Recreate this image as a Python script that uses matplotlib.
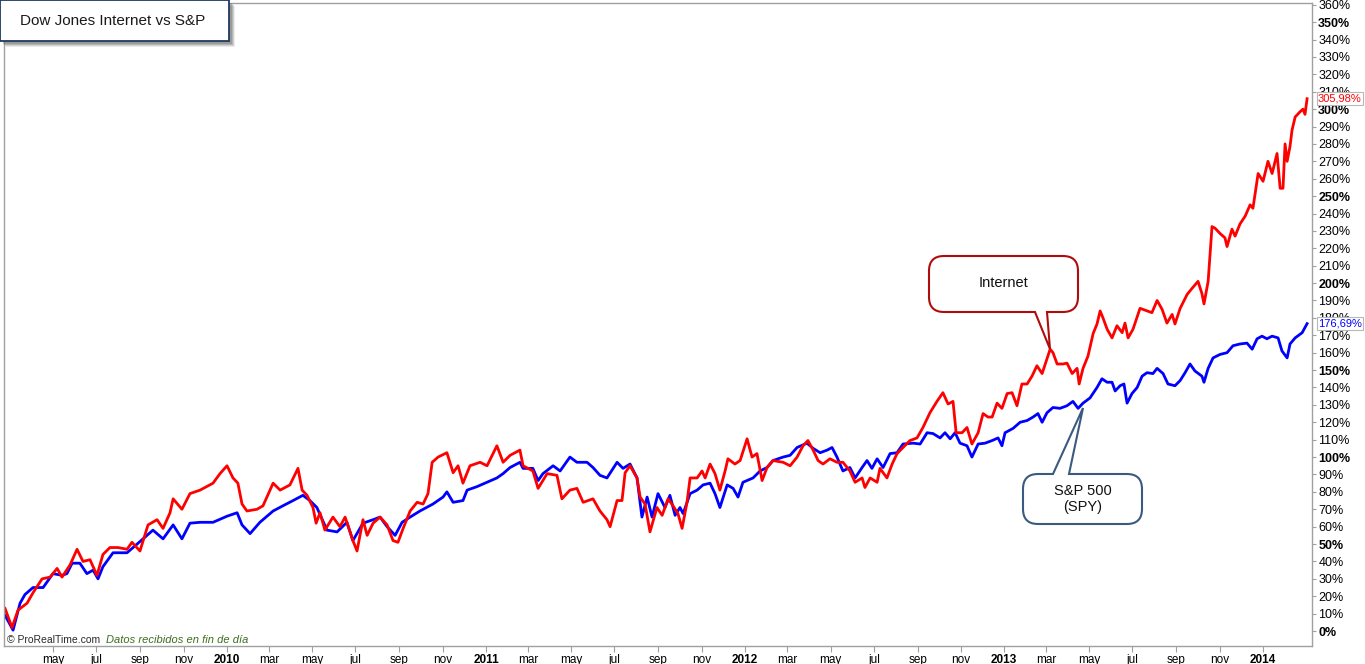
"""Dow Jones Internet vs S&P 500 (SPY), cumulative % change, 2009-2014."""

import datetime as dt

import matplotlib

matplotlib.use("Agg")
import matplotlib.pyplot as plt
from matplotlib.patches import PathPatch, Rectangle
from matplotlib.path import Path

W, H = 1365, 664

# time axis is in decimal years
internet_t = [
    2009.143, 2009.170, 2009.193, 2009.228, 2009.251, 2009.286, 2009.317, 2009.344,
    2009.363, 2009.394, 2009.421, 2009.444, 2009.471, 2009.498, 2009.521, 2009.548,
    2009.579, 2009.614, 2009.633, 2009.664, 2009.695, 2009.730, 2009.753, 2009.780,
    2009.792, 2009.826, 2009.857, 2009.896, 2009.946, 2009.973, 2010.000, 2010.023,
    2010.042, 2010.058, 2010.077, 2010.116, 2010.139, 2010.178, 2010.205, 2010.243,
    2010.274, 2010.290, 2010.309, 2010.332, 2010.344, 2010.359, 2010.378, 2010.409,
    2010.436, 2010.456, 2010.486, 2010.502, 2010.525, 2010.541, 2010.564, 2010.591,
    2010.618, 2010.641, 2010.660, 2010.680, 2010.707, 2010.734, 2010.757, 2010.776,
    2010.792, 2010.815, 2010.849, 2010.873, 2010.892, 2010.911, 2010.938, 2010.977,
    2011.004, 2011.042, 2011.066, 2011.093, 2011.131, 2011.143, 2011.181, 2011.201,
    2011.236, 2011.274, 2011.293, 2011.324, 2011.351, 2011.375, 2011.413, 2011.440,
    2011.467, 2011.479, 2011.506, 2011.525, 2011.537, 2011.556, 2011.583, 2011.595,
    2011.614, 2011.633, 2011.660, 2011.680, 2011.703, 2011.722, 2011.741, 2011.757,
    2011.776, 2011.788, 2011.815, 2011.834, 2011.846, 2011.865, 2011.884, 2011.903,
    2011.923, 2011.934, 2011.961, 2011.981, 2012.008, 2012.027, 2012.046, 2012.066,
    2012.085, 2012.108, 2012.147, 2012.174, 2012.201, 2012.224, 2012.243, 2012.263,
    2012.282, 2012.301, 2012.328, 2012.355, 2012.378, 2012.405, 2012.425, 2012.452,
    2012.463, 2012.483, 2012.510, 2012.521, 2012.548, 2012.568, 2012.587, 2012.610,
    2012.637, 2012.664, 2012.687, 2012.714, 2012.741, 2012.764, 2012.784, 2012.803,
    2012.815, 2012.838, 2012.857, 2012.876, 2012.900, 2012.919, 2012.938, 2012.954,
    2012.973, 2012.992, 2013.012, 2013.031, 2013.050, 2013.069, 2013.089, 2013.108,
    2013.127, 2013.147, 2013.166, 2013.178, 2013.189, 2013.205, 2013.228, 2013.243,
    2013.263, 2013.282, 2013.290, 2013.305, 2013.324, 2013.344, 2013.359, 2013.371,
    2013.382, 2013.398, 2013.417, 2013.436, 2013.456, 2013.467, 2013.479, 2013.498,
    2013.525, 2013.552, 2013.571, 2013.591, 2013.610, 2013.629, 2013.649, 2013.660,
    2013.680, 2013.707, 2013.726, 2013.749, 2013.764, 2013.772, 2013.788, 2013.803,
    2013.815, 2013.834, 2013.853, 2013.861, 2013.880, 2013.892, 2013.911, 2013.931,
    2013.950, 2013.961, 2013.981, 2014.000, 2014.019, 2014.035, 2014.054, 2014.066,
    2014.077, 2014.085, 2014.093, 2014.104, 2014.112, 2014.124, 2014.143, 2014.154,
    2014.162, 2014.170,
]
internet_pct = [
    13, 2, 12, 16, 22, 30, 31, 36,
    31, 38, 47, 40, 41, 32, 44, 48,
    48, 47, 51, 46, 61, 64, 59, 68,
    76, 70, 79, 81, 85, 90.5, 95, 88,
    85, 73, 69, 70, 72, 85, 81, 84,
    93.5, 81, 78, 71, 62, 68, 58, 65.5,
    60, 65.5, 52, 46, 64, 55, 62, 65.5,
    61, 52, 51, 59, 69, 74, 73, 79,
    97, 100, 102.5, 91, 95, 85, 95, 97,
    95, 106.5, 97, 101, 104, 95, 92, 82,
    90.5, 89.5, 76, 81, 82, 74, 76, 69,
    64, 60, 75, 75, 91, 95, 88, 77,
    73, 57, 71, 66.5, 76, 72, 67.5, 59,
    74, 88, 88, 92, 88, 96, 90.5, 81,
    92, 99, 96, 98, 110.5, 100, 102, 86.5,
    94, 98, 97, 95, 100, 106.5, 109.5, 104,
    98, 96, 99, 97, 97, 92, 85.5, 88,
    82.5, 88, 85.5, 93.5, 88, 96, 102, 105.5,
    109.5, 111, 117, 125.5, 132, 137, 130.5, 132,
    114, 114, 117, 107.5, 114, 125, 123, 123,
    131, 128, 136.5, 137, 129.5, 142, 142, 146.5,
    152.5, 148, 156.5, 162, 160, 153.5, 153.5, 154,
    148, 151, 142, 151, 158, 171, 176.5, 184,
    180, 173.5, 168.5, 175.5, 171.5, 177, 168.5, 173.5,
    185.5, 184, 183, 190, 185, 177, 182, 176.5,
    185.5, 193.5, 197, 201, 194, 188, 201, 232.5,
    231.5, 228.5, 226, 221, 231, 227, 234, 238.5,
    245, 243, 263, 258.5, 270, 263, 274.5, 254.5,
    254.5, 280, 270, 278.5, 288, 295.5, 298.5, 300,
    297, 305.98,
]

spy_t = [
    2009.143, 2009.174, 2009.201, 2009.220, 2009.251, 2009.290, 2009.328, 2009.363,
    2009.382, 2009.402, 2009.432, 2009.459, 2009.483, 2009.502, 2009.521, 2009.560,
    2009.614, 2009.653, 2009.691, 2009.714, 2009.753, 2009.792, 2009.826, 2009.857,
    2009.896, 2009.946, 2010.000, 2010.039, 2010.058, 2010.089, 2010.127, 2010.178,
    2010.216, 2010.255, 2010.293, 2010.320, 2010.347, 2010.386, 2010.425, 2010.463,
    2010.486, 2010.525, 2010.564, 2010.591, 2010.618, 2010.649, 2010.676, 2010.707,
    2010.745, 2010.795, 2010.834, 2010.849, 2010.873, 2010.911, 2010.927, 2010.965,
    2011.004, 2011.042, 2011.066, 2011.093, 2011.131, 2011.143, 2011.181, 2011.201,
    2011.220, 2011.259, 2011.286, 2011.324, 2011.351, 2011.390, 2011.413, 2011.440,
    2011.467, 2011.506, 2011.529, 2011.556, 2011.583, 2011.602, 2011.622, 2011.641,
    2011.664, 2011.691, 2011.710, 2011.730, 2011.749, 2011.761, 2011.788, 2011.815,
    2011.838, 2011.865, 2011.884, 2011.903, 2011.931, 2011.954, 2011.973, 2011.992,
    2012.031, 2012.058, 2012.085, 2012.108, 2012.147, 2012.174, 2012.201, 2012.239,
    2012.263, 2012.290, 2012.317, 2012.336, 2012.355, 2012.378, 2012.405, 2012.425,
    2012.452, 2012.471, 2012.490, 2012.510, 2012.533, 2012.560, 2012.587, 2012.610,
    2012.649, 2012.676, 2012.703, 2012.726, 2012.753, 2012.772, 2012.792, 2012.811,
    2012.830, 2012.857, 2012.876, 2012.900, 2012.927, 2012.954, 2012.977, 2012.992,
    2013.004, 2013.035, 2013.062, 2013.089, 2013.112, 2013.131, 2013.147, 2013.166,
    2013.189, 2013.216, 2013.243, 2013.266, 2013.286, 2013.305, 2013.332, 2013.359,
    2013.378, 2013.398, 2013.417, 2013.429, 2013.448, 2013.463, 2013.475, 2013.494,
    2013.514, 2013.533, 2013.552, 2013.575, 2013.591, 2013.614, 2013.633, 2013.660,
    2013.680, 2013.699, 2013.718, 2013.737, 2013.764, 2013.772, 2013.788, 2013.807,
    2013.834, 2013.861, 2013.884, 2013.911, 2013.938, 2013.958, 2013.977, 2013.996,
    2014.015, 2014.035, 2014.058, 2014.073, 2014.093, 2014.104, 2014.124, 2014.151,
    2014.170,
]
spy_pct = [
    9, 0.5, 16, 21, 25, 25, 33, 32,
    33, 39, 39, 33, 35, 30, 37, 45,
    45, 50, 55, 58, 53, 61, 53, 62,
    62.5, 62.5, 66, 68, 61, 56, 62.5, 69,
    72, 75, 78, 75, 71, 58, 57, 62.5,
    52, 62, 64, 65.5, 60, 55, 62.5, 65.5,
    69, 73, 77, 80, 74, 75, 81, 83,
    85.5, 88, 90.5, 94, 97, 93.5, 93.5, 86.5,
    90.5, 95, 92, 100, 97, 97, 94, 89.5,
    88, 97, 93.5, 96, 88, 65.5, 77, 65.5,
    79, 71, 78, 66.5, 71, 67.5, 79, 81,
    84, 85, 79, 71, 84, 82, 77, 85.5,
    88, 92, 94, 98, 100, 101, 105.5, 108,
    105, 102.5, 104, 105.5, 100, 92, 94, 88,
    94, 98, 93.5, 99, 94, 102, 102.5, 107.5,
    108, 107.5, 114, 113.5, 111, 114, 110.5, 114,
    108, 106.5, 100, 107.5, 108, 109.5, 111, 106.5,
    114, 116.5, 120, 121, 123, 125, 120, 125.5,
    128.5, 128, 129.5, 132, 128, 131, 134, 140,
    145, 143, 143, 138, 141, 142, 131, 136.5,
    140, 146.5, 148.5, 148, 151, 148, 142, 141,
    144, 148.5, 153.5, 149.5, 146.5, 143, 151, 157,
    159, 160, 164, 165, 165.5, 162, 168, 169.5,
    168, 169.5, 168.5, 161, 157, 165, 168.5, 171.5,
    176.69,
]

tick_dates = [
    "2009-05-01", "2009-07-01", "2009-09-01", "2009-11-01",
    "2010-01-01", "2010-03-01", "2010-05-01", "2010-07-01", "2010-09-01", "2010-11-01",
    "2011-01-01", "2011-03-01", "2011-05-01", "2011-07-01", "2011-09-01", "2011-11-01",
    "2012-01-01", "2012-03-01", "2012-05-01", "2012-07-01", "2012-09-01", "2012-11-01",
    "2013-01-01", "2013-03-01", "2013-05-01", "2013-07-01", "2013-09-01", "2013-11-01",
    "2014-01-01",
]
tick_labels = [
    "may", "jul", "sep", "nov",
    "2010", "mar", "may", "jul", "sep", "nov",
    "2011", "mar", "may", "jul", "sep", "nov",
    "2012", "mar", "may", "jul", "sep", "nov",
    "2013", "mar", "may", "jul", "sep", "nov",
    "2014",
]
pct_ticks = list(range(0, 361, 10))

plt.rcParams["font.family"] = ["Liberation Sans", "DejaVu Sans"]


def decimal_year(s):
    d = dt.date.fromisoformat(s)
    start = dt.date(d.year, 1, 1)
    length = (dt.date(d.year + 1, 1, 1) - start).days
    return d.year + (d - start).days / length


def fig_xy(x, y):
    # pixel position (y from top) -> figure fraction
    return (x / W, 1 - y / H)


def callout(fig, box, r, base, tip, side, ec):
    x0, y0, x1, y1 = box
    pa, pb = base
    M, L, C, Z = Path.MOVETO, Path.LINETO, Path.CURVE3, Path.CLOSEPOLY
    pts = [((x0 + r, y0), M)]
    if side == "top":
        pts += [((pa, y0), L), (tip, L), ((pb, y0), L)]
    pts += [((x1 - r, y0), L), ((x1, y0), C), ((x1, y0 + r), C),
            ((x1, y1 - r), L), ((x1, y1), C), ((x1 - r, y1), C)]
    if side == "bottom":
        pts += [((pb, y1), L), (tip, L), ((pa, y1), L)]
    pts += [((x0 + r, y1), L), ((x0, y1), C), ((x0, y1 - r), C),
            ((x0, y0 + r), L), ((x0, y0), C), ((x0 + r, y0), C),
            ((x0 + r, y0), Z)]
    verts = [fig_xy(*p) for p, _ in pts]
    codes = [c for _, c in pts]
    patch = PathPatch(Path(verts, codes), transform=fig.transFigure,
                      facecolor="white", edgecolor=ec, lw=1.5, zorder=6)
    fig.add_artist(patch)


fig = plt.figure(figsize=(W / 100, H / 100), dpi=100)
ax = fig.add_axes([4 / W, 1 - 646 / H, (1312 - 4) / W, (646 - 3) / H])

ax.plot(spy_t, spy_pct, color="#0000ff", lw=2.0)
ax.plot(internet_t, internet_pct, color="#ff0000", lw=2.0)

ax.set_xlim(2009.139, 2014.189)
ax.set_ylim(-8.6, 361)

for sp in ax.spines.values():
    sp.set_color("#a0a0a0")
    sp.set_linewidth(1.0)

ax.yaxis.tick_right()
ax.set_yticks(pct_ticks, [f"{v}%" for v in pct_ticks])
for v, lab in zip(pct_ticks, ax.get_yticklabels()):
    if v % 50 == 0:
        lab.set_fontweight("bold")
ax.tick_params(axis="y", direction="out", length=3, width=0.8,
               color="#a0a0a0", labelsize=9, pad=1.5, labelcolor="#000000")

ax.set_xticks([decimal_year(d) for d in tick_dates], tick_labels)
for lab in ax.get_xticklabels():
    if lab.get_text().isdigit():
        lab.set_fontweight("bold")
        lab.set_fontsize(9)
ax.tick_params(axis="x", direction="out", length=4, width=0.8,
               color="#a0a0a0", labelsize=8.5, pad=2, labelcolor="#000000")

# last-value tags on the price scale
for vals, col in ((internet_pct, "#ff0000"), (spy_pct, "#0000ff")):
    ax.annotate(f"{vals[-1]:.2f}%".replace(".", ","),
                xy=(1, vals[-1]), xycoords=ax.get_yaxis_transform(),
                xytext=(6, 0), textcoords="offset pixels",
                ha="left", va="center", fontsize=8, color=col,
                annotation_clip=False, zorder=10,
                bbox=dict(boxstyle="square,pad=0.12", fc="white",
                          ec="#b8b8b8", lw=0.8))

# watermark
fig.text(7 / W, 1 - 640 / H, "© ProRealTime.com", fontsize=7.5,
         color="#2a2a2a", va="center", ha="left")
fig.text(106 / W, 1 - 640 / H, "Datos recibidos en fin de día", fontsize=8,
         color="#3d6e1f", style="italic", va="center", ha="left")

# title box with a soft shadow
for off, a in ((6, 0.12), (5, 0.18), (4, 0.25), (3, 0.3)):
    fig.add_artist(Rectangle(fig_xy(off, 41 + off), 229 / W, 41 / H,
                             transform=fig.transFigure, fc="#606060",
                             ec="none", alpha=a, zorder=4))
fig.add_artist(Rectangle(fig_xy(0, 41), 229 / W, 41 / H,
                         transform=fig.transFigure, fc="white",
                         ec="#1f3a60", lw=1.3, zorder=5))
fig.text(20 / W, 1 - 21 / H, "Dow Jones Internet vs S&P", fontsize=11,
         color="#1a1a1a", va="center", ha="left", zorder=7)

# callouts
callout(fig, (929, 256, 1078, 312), 15, (1035, 1047), (1050, 349),
        "bottom", "#b00c0c")
fig.text(1003 / W, 1 - 283 / H, "Internet", fontsize=10.5, color="#111111",
         ha="center", va="center", zorder=7)

callout(fig, (1023, 474, 1142, 524), 15, (1053, 1069), (1083, 408),
        "top", "#3a5a80")
fig.text(1083 / W, 1 - 499 / H, "S&P 500\n(SPY)", fontsize=10.5,
         color="#111111", ha="center", va="center", linespacing=1.2, zorder=7)

fig.savefig("out.png", dpi=100)
